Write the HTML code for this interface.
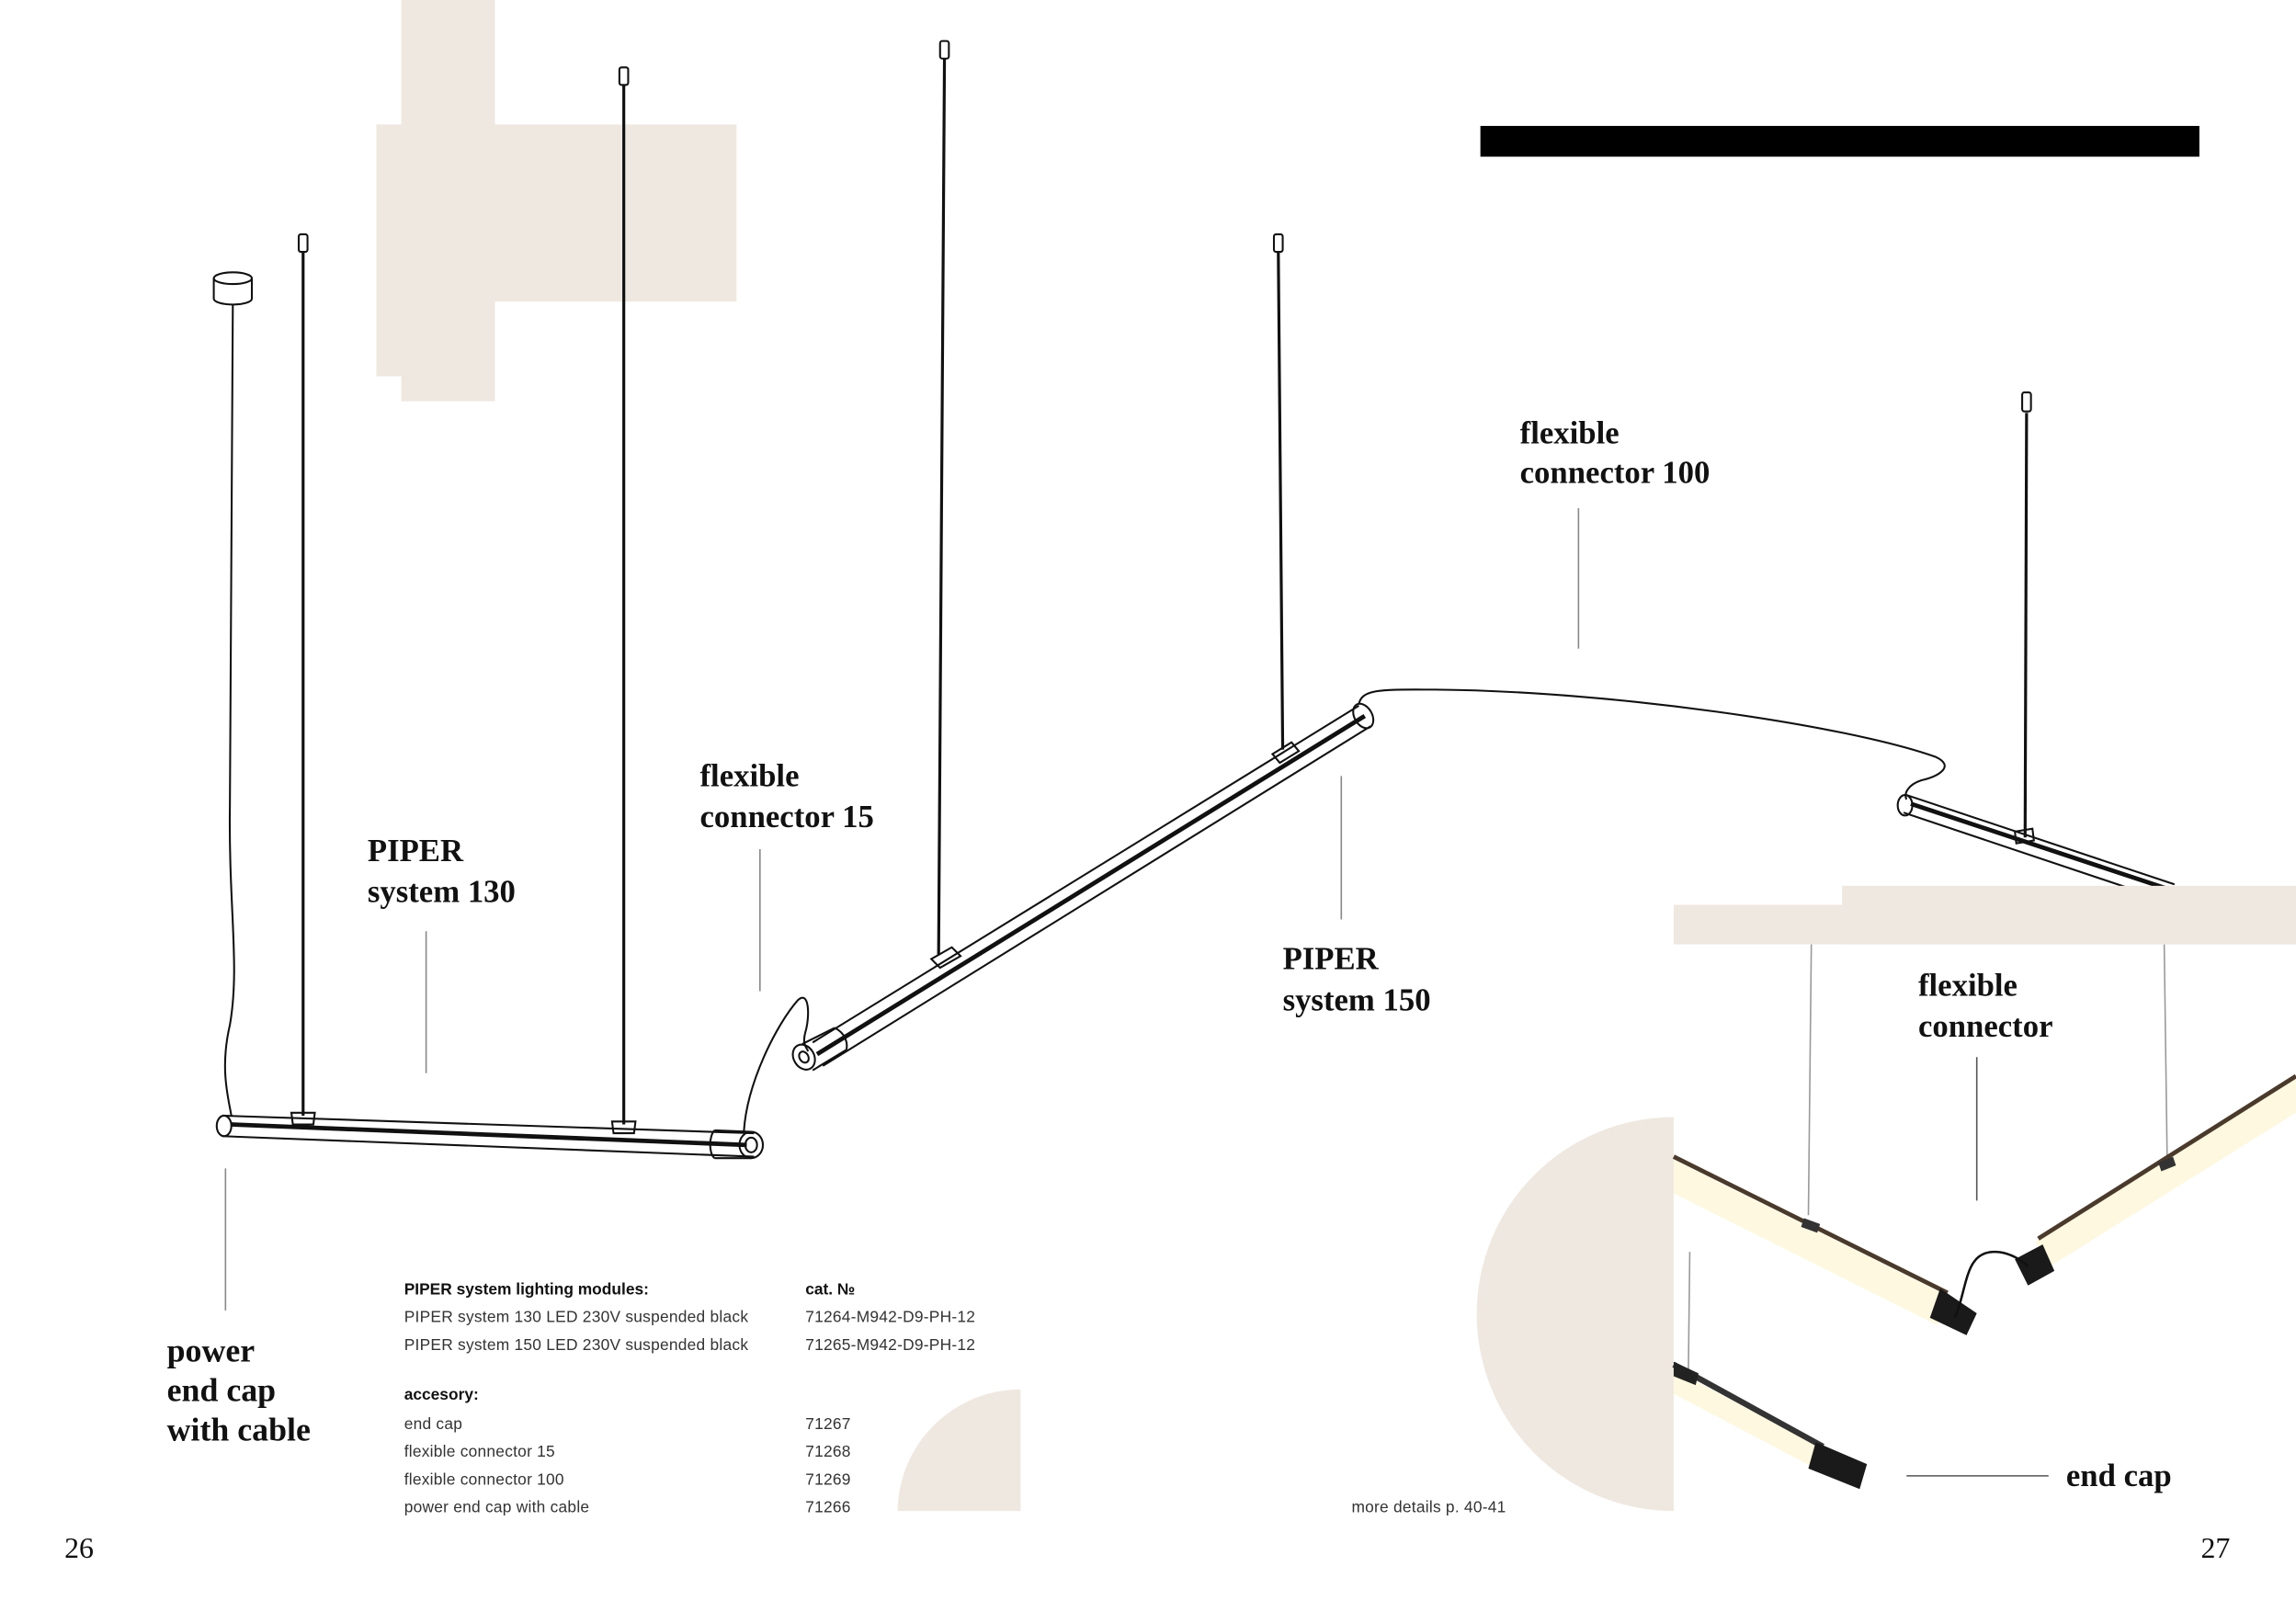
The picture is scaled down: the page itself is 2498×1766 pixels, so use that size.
<!DOCTYPE html>
<html><head><meta charset="utf-8"><style>
html,body{margin:0;padding:0;background:#fff}
svg{display:block}
.lb{font-family:"Liberation Serif",serif;font-weight:bold;font-size:21.8px;fill:#111}
.tb{font-family:"Liberation Sans",sans-serif;font-size:10.9px;fill:#333;letter-spacing:0.15px}
.tbb{font-family:"Liberation Sans",sans-serif;font-size:10.9px;font-weight:bold;fill:#111}
</style></head><body>
<svg width="2498" height="1766" viewBox="0 0 1568 1108.5" xmlns="http://www.w3.org/2000/svg">
<rect width="1568" height="1108.5" fill="#fff"/>
<g fill="#efe8e0">
<rect x="274" y="0" width="64" height="274"/>
<rect x="257" y="85" width="81" height="172"/>
<rect x="338" y="85" width="165" height="121"/>
<path d="M1143 763 A134 134 0 0 0 1143 1032 Z"/>
<path d="M613 1032 A84 84 0 0 1 697 949 L697 1032 Z"/>
</g>
<rect x="1011" y="86" width="491" height="21" fill="#000"/>

<g stroke="#111" fill="none" stroke-width="1.3">
<line x1="207" y1="172" x2="207" y2="762" stroke-width="2"/>
<rect x="204" y="160" width="6" height="12" rx="1.5"/>
<line x1="426" y1="58" x2="426" y2="768" stroke-width="2"/>
<rect x="423" y="46" width="6" height="12" rx="1.5"/>
<ellipse cx="159" cy="190" rx="13" ry="4"/>
<path d="M146 190 V204 A13 4 0 0 0 172 204 V190"/>
<path d="M159 208 C158 400 157 500 157 550 C156 620 164 660 157 700 C150 730 156 750 158 762"/>
<path d="M152 762 L515 774"/>
<path d="M152 776 L515 790"/>
<path d="M158 768 L510 782" stroke-width="3"/>
<ellipse cx="153" cy="769" rx="5" ry="7"/>
<ellipse cx="513" cy="782" rx="8" ry="9"/>
<ellipse cx="513" cy="782" rx="4" ry="5"/>
<path d="M488 772 L513 773 M488 791 L513 791 M488 772 C484 776 484 788 488 791"/>
<path d="M199 760 L215 760 L214 768 L200 768 Z"/>
<path d="M418 766 L434 766 L433 774 L419 774 Z"/>
<path d="M508 773 C510 740 530 700 545 683 C553 676 553 695 550 705 C548 712 550 715 552 718"/>
<line x1="645" y1="40" x2="641" y2="652" stroke-width="2"/>
<rect x="642" y="28" width="6" height="12" rx="1.5"/>
<line x1="873" y1="172" x2="876" y2="512" stroke-width="2"/>
<rect x="870" y="160" width="6" height="12" rx="1.5"/>
<path d="M555 712 L928 482"/>
<path d="M562 728 L936 496"/>
<path d="M558 720 L932 489" stroke-width="3"/>
<ellipse cx="549" cy="722" rx="7" ry="9" transform="rotate(-30 549 722)"/>
<ellipse cx="549" cy="722" rx="3" ry="4" transform="rotate(-30 549 722)"/>
<path d="M548 713 L570 702 M555 731 L578 717 M570 702 C578 706 579 713 578 717"/>
<ellipse cx="931" cy="489" rx="6" ry="9" transform="rotate(-30 931 489)"/>
<path d="M636 655 L650 647 L656 653 L642 661 Z"/>
<path d="M869 515 L882 507 L887 513 L874 521 Z"/>
<path d="M928 481 C930 470 945 471 980 471 C1100 472 1260 495 1322 517 C1335 523 1325 530 1312 533 C1303 536 1300 542 1302 546"/>
<line x1="1384" y1="282" x2="1383" y2="572" stroke-width="2"/>
<rect x="1381" y="268" width="6" height="13" rx="1.5"/>
<path d="M1302 543 L1485 604"/>
<path d="M1300 555 L1470 612"/>
<path d="M1305 549 L1480 607" stroke-width="3"/>
<ellipse cx="1301" cy="550" rx="5" ry="7"/>
<path d="M1376 568 L1388 566 L1389 574 L1377 576 Z"/>
</g>
<g fill="#efe8e0">
<rect x="1143" y="618" width="425" height="27"/>
<rect x="1258" y="605" width="310" height="40"/>
</g>

<g>
<line x1="1237" y1="645" x2="1235" y2="830" stroke="#999" stroke-width="1"/>
<line x1="1478" y1="645" x2="1480" y2="790" stroke="#999" stroke-width="1"/>
<line x1="1154" y1="855" x2="1153" y2="940" stroke="#999" stroke-width="1"/>
<path d="M1143 792 L1330 885 L1323 905 L1143 815 Z" fill="#fdf8df"/>
<path d="M1143 790 L1330 883" stroke="#4a3a2c" stroke-width="3"/>
<path d="M1325 880 L1350 897 L1343 912 L1318 900 Z" fill="#1a1a1a"/>
<path d="M1232 832 L1243 836 L1241 842 L1230 838 Z" fill="#333"/>
<path d="M1568 736 L1568 760 L1400 865 L1390 848 Z" fill="#fdf8df"/>
<path d="M1568 735 L1392 846" stroke="#4a3a2c" stroke-width="3"/>
<path d="M1376 860 L1395 850 L1403 868 L1385 878 Z" fill="#1a1a1a"/>
<path d="M1474 794 L1484 790 L1486 796 L1476 800 Z" fill="#333"/>
<path d="M1335 900 C1340 890 1342 870 1348 862 C1356 850 1375 855 1385 865" stroke="#111" stroke-width="1.6" fill="none"/>
<path d="M1143 935 L1245 990 L1240 1003 L1143 952 Z" fill="#fdf8df"/>
<path d="M1143 932 L1245 988" stroke="#333" stroke-width="4"/>
<path d="M1143 930 L1160 938 L1158 946 L1143 940 Z" fill="#222"/>
<path d="M1240 985 L1275 1000 L1270 1017 L1235 1003 Z" fill="#1a1a1a"/>
</g>

<g stroke="#888" stroke-width="1">
<line x1="291" y1="636" x2="291" y2="733"/>
<line x1="519" y1="580" x2="519" y2="677"/>
<line x1="916" y1="530" x2="916" y2="628"/>
<line x1="1078" y1="347" x2="1078" y2="443"/>
<line x1="154" y1="798" x2="154" y2="895"/>
<line x1="1350" y1="722" x2="1350" y2="820" stroke="#555"/>
<line x1="1302" y1="1008" x2="1399" y2="1008" stroke="#555"/>
</g>

<text class="lb" x="251" y="588">PIPER</text>
<text class="lb" x="251" y="616">system 130</text>
<text class="lb" x="478" y="537">flexible</text>
<text class="lb" x="478" y="565">connector 15</text>
<text class="lb" x="876" y="662">PIPER</text>
<text class="lb" x="876" y="690">system 150</text>
<text class="lb" x="1038" y="303">flexible</text>
<text class="lb" x="1038" y="330">connector 100</text>
<text class="lb" x="1310" y="680">flexible</text>
<text class="lb" x="1310" y="708">connector</text>
<text class="lb" x="1411" y="1015">end cap</text>
<text class="lb" x="114" y="930" style="font-size:22.5px">power</text>
<text class="lb" x="114" y="957" style="font-size:22.5px">end cap</text>
<text class="lb" x="114" y="984" style="font-size:22.5px">with cable</text>

<text class="tbb" x="276" y="884">PIPER system lighting modules:</text>
<text class="tbb" x="550" y="884">cat. №</text>
<text class="tb" x="276" y="903">PIPER system 130 LED 230V suspended black</text>
<text class="tb" x="550" y="903">71264-M942-D9-PH-12</text>
<text class="tb" x="276" y="922">PIPER system 150 LED 230V suspended black</text>
<text class="tb" x="550" y="922">71265-M942-D9-PH-12</text>
<text class="tbb" x="276" y="956">accesory:</text>
<text class="tb" x="276" y="976">end cap</text><text class="tb" x="550" y="976">71267</text>
<text class="tb" x="276" y="995">flexible connector 15</text><text class="tb" x="550" y="995">71268</text>
<text class="tb" x="276" y="1014">flexible connector 100</text><text class="tb" x="550" y="1014">71269</text>
<text class="tb" x="276" y="1033">power end cap with cable</text><text class="tb" x="550" y="1033">71266</text>
<text class="tb" x="923" y="1033">more details p. 40-41</text>

<text x="44" y="1064" font-family="Liberation Serif,serif" font-size="20" fill="#111">26</text>
<text x="1503" y="1064" font-family="Liberation Serif,serif" font-size="20" fill="#111">27</text>
</svg>
</body></html>
